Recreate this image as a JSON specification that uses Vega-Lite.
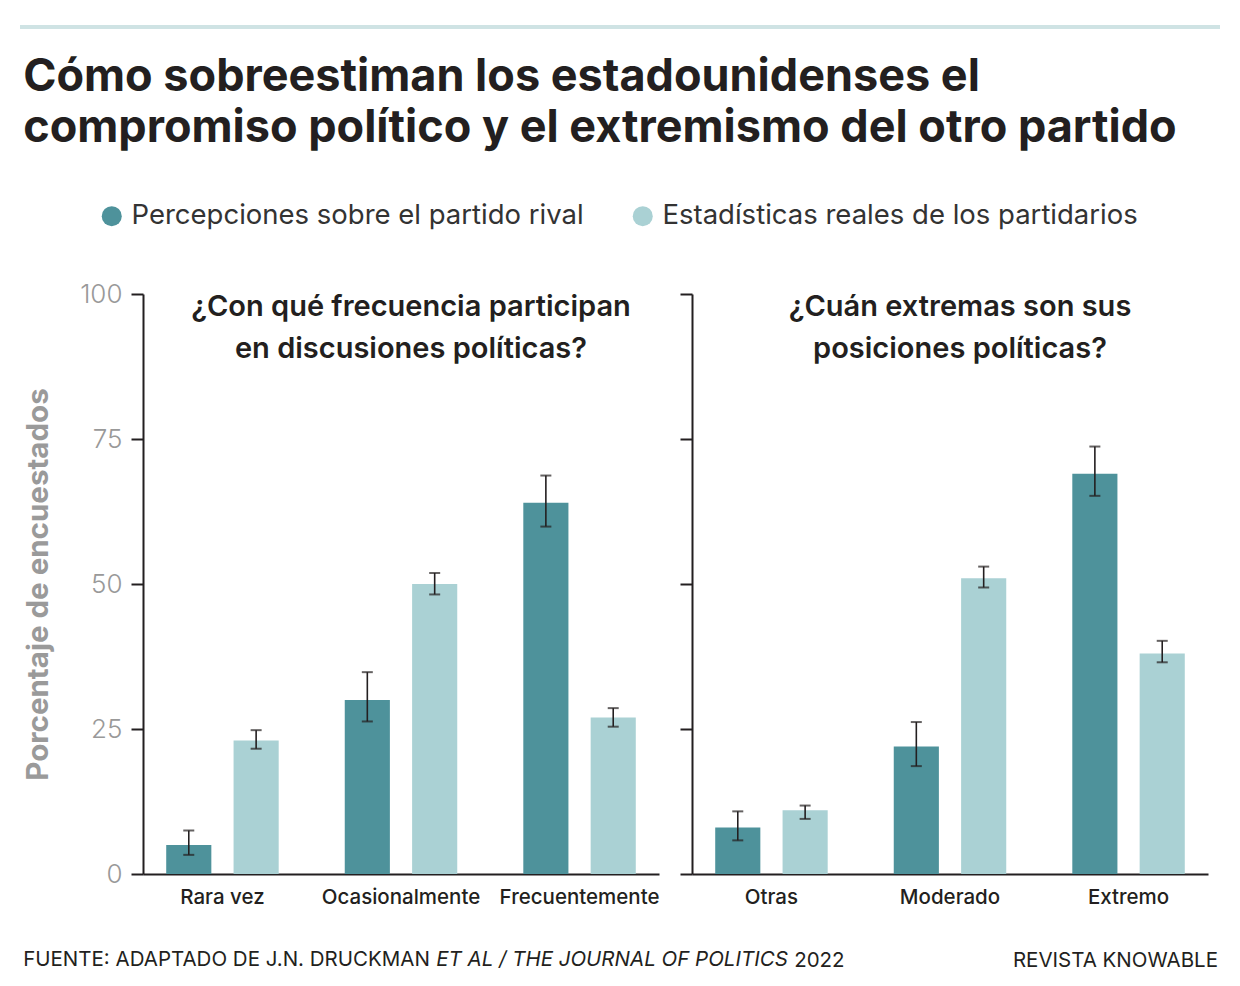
{
  "$schema": "https://vega.github.io/schema/vega-lite/v6.json",
  "padding": {"left": 20, "top": 25, "right": 18, "bottom": 10},
  "background": "white",
  "config": {
    "font": "Inter",
    "view": {"stroke": null},
    "title": {"offset": 0},
    "legend": {
      "orient": "none",
      "legendX": -45,
      "legendY": 177,
      "direction": "horizontal",
      "symbolType": "circle",
      "symbolSize": 400,
      "symbolStrokeWidth": 0,
      "labelFontSize": 27.5,
      "labelColor": "#333333",
      "labelFont": "Inter",
      "labelLimit": 0,
      "columnPadding": 45,
      "labelOffset": 6,
      "title": null
    }
  },
  "spacing": 26,
  "vconcat": [
    {
      "data": {"values": [{"a": 1}]},
      "width": 1077,
      "height": 4,
      "mark": {"type": "rect", "color": "#cfe3e4"},
      "encoding": {
        "x": {"datum": -123, "type": "quantitative", "scale": {"domain": [0, 1077]}, "axis": null},
        "x2": {"datum": 1077}
      }
    },
    {
      "data": {
        "values": [
          {"panel": "A", "cat": "Rara vez", "serie": "Percepciones sobre el partido rival", "value": 5, "lo": 3.3, "hi": 7.5},
          {"panel": "A", "cat": "Rara vez", "serie": "Estadísticas reales de los partidarios", "value": 23, "lo": 21.6, "hi": 24.8},
          {"panel": "A", "cat": "Ocasionalmente", "serie": "Percepciones sobre el partido rival", "value": 30, "lo": 26.3, "hi": 34.8},
          {"panel": "A", "cat": "Ocasionalmente", "serie": "Estadísticas reales de los partidarios", "value": 50, "lo": 48.2, "hi": 51.9},
          {"panel": "A", "cat": "Frecuentemente", "serie": "Percepciones sobre el partido rival", "value": 64, "lo": 59.9, "hi": 68.7},
          {"panel": "A", "cat": "Frecuentemente", "serie": "Estadísticas reales de los partidarios", "value": 27, "lo": 25.4, "hi": 28.6},
          {"panel": "B", "cat": "Otras", "serie": "Percepciones sobre el partido rival", "value": 8, "lo": 5.8, "hi": 10.8},
          {"panel": "B", "cat": "Otras", "serie": "Estadísticas reales de los partidarios", "value": 11, "lo": 9.5, "hi": 11.8},
          {"panel": "B", "cat": "Moderado", "serie": "Percepciones sobre el partido rival", "value": 22, "lo": 18.6, "hi": 26.2},
          {"panel": "B", "cat": "Moderado", "serie": "Estadísticas reales de los partidarios", "value": 51, "lo": 49.4, "hi": 53.0},
          {"panel": "B", "cat": "Extremo", "serie": "Percepciones sobre el partido rival", "value": 69, "lo": 65.2, "hi": 73.7},
          {"panel": "B", "cat": "Extremo", "serie": "Estadísticas reales de los partidarios", "value": 38, "lo": 36.5, "hi": 40.2}
        ]
      },
      "title": {
        "text": ["Cómo sobreestiman los estadounidenses el", "compromiso político y el extremismo del otro partido"],
        "anchor": "start",
        "fontSize": 45,
        "fontWeight": "bold",
        "color": "#231f20",
        "lineHeight": 51,
        "offset": 130
      },
      "vconcat": [
        {
          "title": {"text": "REVISTA KNOWABLE", "orient": "bottom", "anchor": "end", "fontSize": 20.5, "fontWeight": "normal", "color": "#231f20", "dx": 10, "dy": -24},
          "vconcat": [
            {
              "title": {"text": "2022", "orient": "bottom", "anchor": "start", "fontSize": 20.5, "fontWeight": "normal", "color": "#231f20", "dx": 771, "dy": -24},
              "vconcat": [
                {
                  "title": {"text": "ET AL / THE JOURNAL OF POLITICS", "orient": "bottom", "anchor": "start", "fontSize": 20.5, "fontWeight": "normal", "fontStyle": "italic", "color": "#231f20", "dx": 413, "dy": -24},
                  "vconcat": [
                    {
                      "title": {"text": "FUENTE: ADAPTADO DE J.N. DRUCKMAN", "orient": "bottom", "anchor": "start", "fontSize": 20.5, "fontWeight": "normal", "color": "#231f20", "offset": 42},
                      "spacing": 20,
                      "hconcat": [
                        {
                          "width": 516,
                          "height": 580,
                          "transform": [{"filter": "datum.panel == 'A'"}],
                          "title": {"text": ["¿Con qué frecuencia participan", "en discusiones políticas?"], "anchor": "middle", "fontSize": 29, "fontWeight": 600, "color": "#231f20", "lineHeight": 42, "dx": 10, "dy": 87},
                          "encoding": {
                            "x": {"field": "cat", "type": "nominal", "sort": ["Rara vez", "Ocasionalmente", "Frecuentemente"], "scale": {"paddingInner": 0.37, "paddingOuter": 0.13},
                              "axis": {"title": null, "labelAngle": 0, "ticks": false, "labelFontSize": 20.5, "labelFontWeight": 500, "labelColor": "#231f20", "labelPadding": 13, "domainColor": "#231f20", "domainWidth": 2}},
                            "xOffset": {"field": "serie", "sort": ["Percepciones sobre el partido rival", "Estadísticas reales de los partidarios"], "scale": {"paddingInner": 0.33, "paddingOuter": 0}}
                          },
                          "layer": [
                            {
                              "mark": {"type": "bar"},
                              "encoding": {
                                "y": {"field": "value", "type": "quantitative", "scale": {"domain": [0, 100]},
                                  "axis": {"values": [0, 25, 50, 75, 100], "grid": false, "title": "Porcentaje de encuestados", "titleFontSize": 29.5, "titleFontWeight": "bold", "titleColor": "#9a9a9a", "titlePadding": 26.5, "labelFontSize": 26, "labelFontWeight": 300, "labelColor": "#999999", "labelPadding": 9, "tickSize": 12, "tickWidth": 2, "tickColor": "#231f20", "domainColor": "#231f20", "domainWidth": 2}},
                                "color": {"field": "serie", "type": "nominal", "sort": ["Percepciones sobre el partido rival", "Estadísticas reales de los partidarios"], "scale": {"domain": ["Percepciones sobre el partido rival", "Estadísticas reales de los partidarios"], "range": ["#4e929b", "#aad1d4"]}}
                              }
                            },
                            {"mark": {"type": "rule", "color": "#231f20", "strokeWidth": 1.6}, "encoding": {"y": {"field": "lo", "type": "quantitative"}, "y2": {"field": "hi"}}},
                            {"mark": {"type": "tick", "color": "#231f20", "thickness": 2, "size": 11}, "encoding": {"y": {"field": "lo", "type": "quantitative"}}},
                            {"mark": {"type": "tick", "color": "#231f20", "thickness": 2, "size": 11}, "encoding": {"y": {"field": "hi", "type": "quantitative"}}}
                          ]
                        },
                        {
                          "width": 516,
                          "height": 580,
                          "transform": [{"filter": "datum.panel == 'B'"}],
                          "title": {"text": ["¿Cuán extremas son sus", "posiciones políticas?"], "anchor": "middle", "fontSize": 29, "fontWeight": 600, "color": "#231f20", "lineHeight": 42, "dx": 10, "dy": 75},
                          "encoding": {
                            "x": {"field": "cat", "type": "nominal", "sort": ["Otras", "Moderado", "Extremo"], "scale": {"paddingInner": 0.37, "paddingOuter": 0.13},
                              "axis": {"title": null, "labelAngle": 0, "ticks": false, "labelFontSize": 20.5, "labelFontWeight": 500, "labelColor": "#231f20", "labelPadding": 13, "domainColor": "#231f20", "domainWidth": 2}},
                            "xOffset": {"field": "serie", "sort": ["Percepciones sobre el partido rival", "Estadísticas reales de los partidarios"], "scale": {"paddingInner": 0.33, "paddingOuter": 0}}
                          },
                          "layer": [
                            {
                              "mark": {"type": "bar"},
                              "encoding": {
                                "y": {"field": "value", "type": "quantitative", "scale": {"domain": [0, 100]},
                                  "axis": {"values": [0, 25, 50, 75, 100], "grid": false, "title": null, "labels": false, "tickSize": 12, "tickWidth": 2, "tickColor": "#231f20", "domainColor": "#231f20", "domainWidth": 2}},
                                "color": {"field": "serie", "type": "nominal", "sort": ["Percepciones sobre el partido rival", "Estadísticas reales de los partidarios"], "scale": {"domain": ["Percepciones sobre el partido rival", "Estadísticas reales de los partidarios"], "range": ["#4e929b", "#aad1d4"]}}
                              }
                            },
                            {"mark": {"type": "rule", "color": "#231f20", "strokeWidth": 1.6}, "encoding": {"y": {"field": "lo", "type": "quantitative"}, "y2": {"field": "hi"}}},
                            {"mark": {"type": "tick", "color": "#231f20", "thickness": 2, "size": 11}, "encoding": {"y": {"field": "lo", "type": "quantitative"}}},
                            {"mark": {"type": "tick", "color": "#231f20", "thickness": 2, "size": 11}, "encoding": {"y": {"field": "hi", "type": "quantitative"}}}
                          ]
                        }
                      ]
                    }
                  ]
                }
              ]
            }
          ]
        }
      ]
    }
  ]
}
